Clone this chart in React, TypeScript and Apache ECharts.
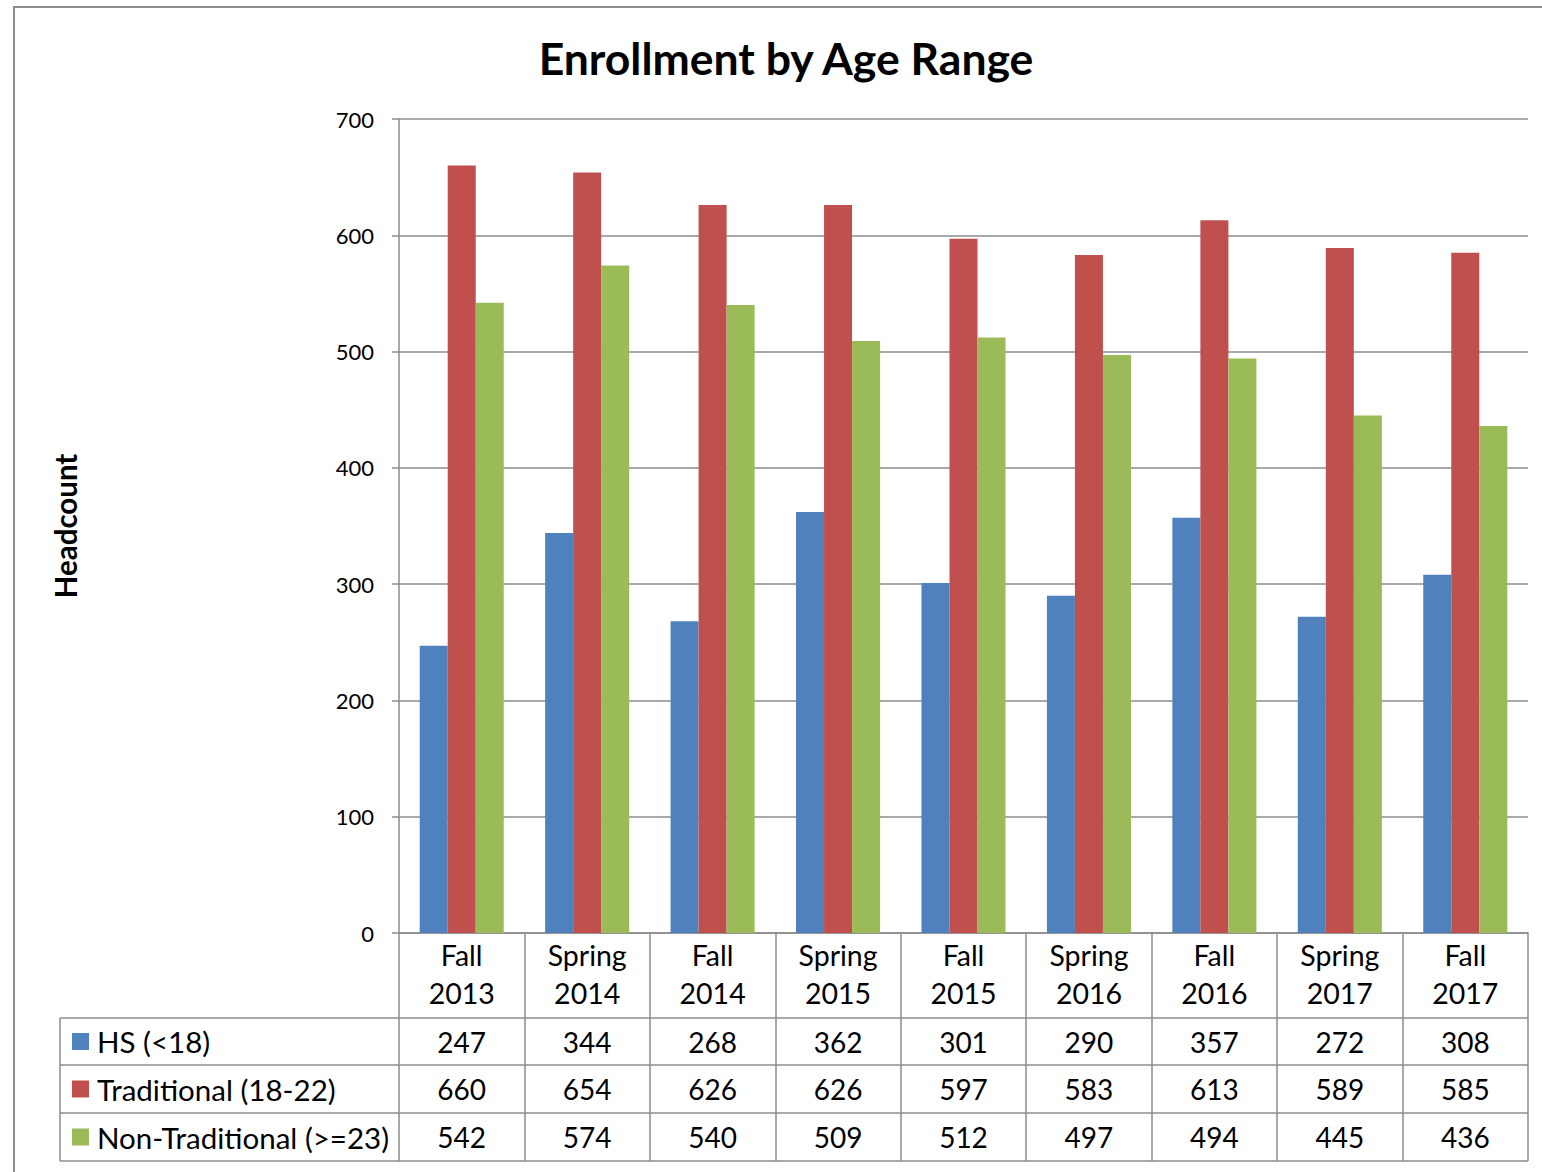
import React, { useEffect, useRef } from "react";
import * as echarts from "echarts";

const categories = ["Fall\n2013", "Spring\n2014", "Fall\n2014", "Spring\n2015", "Fall\n2015", "Spring\n2016", "Fall\n2016", "Spring\n2017", "Fall\n2017"];
const seriesNames = ["HS (<18)", "Traditional (18-22)", "Non-Traditional (>=23)"];
const hsValues = [247, 344, 268, 362, 301, 290, 357, 272, 308];
const traditionalValues = [660, 654, 626, 626, 597, 583, 613, 589, 585];
const nonTraditionalValues = [542, 574, 540, 509, 512, 497, 494, 445, 436];
const seriesColors = ["#4F81BD", "#C0504D", "#9BBB59"];
const yTicks = { min: 0, max: 700, interval: 100 };
const titleText = "Enrollment by Age Range";
const yAxisTitle = "Headcount";

const FONT = "Lato, 'Noto Sans', sans-serif";
const LINE = "#8c8c8c";

export default function App() {
  const ref = useRef<HTMLDivElement>(null);
  useEffect(() => {
    if (!ref.current) return;
    const chart = echarts.init(ref.current, null, { renderer: "svg" });
    const allValues = [hsValues, traditionalValues, nonTraditionalValues];
    const gridLeft = 399, gridTop = 119, gridRight = 1528, gridBottom = 933;
    const tableBottom = 1161;
    chart.setOption({
      animation: false,
      backgroundColor: "#ffffff",
      grid: { left: gridLeft, top: gridTop, right: 1542 - gridRight, bottom: 1172 - gridBottom, containLabel: false },
      xAxis: {
        type: "category",
        data: categories,
        axisLine: { show: true, lineStyle: { color: LINE, width: 1.5 } },
        axisTick: { show: true, inside: false, length: tableBottom - gridBottom, lineStyle: { color: LINE, width: 1.5 } },
        axisLabel: { fontFamily: FONT, fontSize: 28.5, color: "#000", lineHeight: 38, margin: 3, interval: 0 },
        splitLine: { show: false },
      },
      yAxis: {
        type: "value",
        min: yTicks.min,
        max: yTicks.max,
        interval: yTicks.interval,
        name: yAxisTitle,
        nameLocation: "middle",
        nameRotate: 90,
        nameGap: gridLeft - 80,
        nameTextStyle: { fontFamily: FONT, fontSize: 29.5, fontWeight: "bold", color: "#000" },
        axisLine: { show: true, lineStyle: { color: LINE, width: 1.5 } },
        axisTick: { show: true, length: 7, lineStyle: { color: LINE, width: 1.5 } },
        axisLabel: { fontFamily: FONT, fontSize: 22, color: "#000", margin: 25 },
        splitLine: { show: true, lineStyle: { color: LINE, width: 1.5 } },
      },
      series: seriesNames.map((name, i) => ({
        name,
        type: "bar",
        data: allValues[i],
        itemStyle: { color: seriesColors[i] },
        barGap: "0%",
        barCategoryGap: "33%",
      })),
    });

    const rowTops = [1018, 1065, 1113, 1161];
    const tableLeft = 60;
    const graphics: any[] = [];
    graphics.push({
      type: "rect",
      shape: { x: 14, y: 7, width: 1600, height: 1300 },
      style: { fill: "none", stroke: "#8c8c8c", lineWidth: 2 },
      silent: true,
      z: 0,
    });
    graphics.push({
      type: "text",
      x: 786,
      y: 57,
      style: { text: titleText, font: `bold 44.5px ${FONT}`, fill: "#000", textAlign: "center", textVerticalAlign: "middle" },
    });
    rowTops.forEach((y) => {
      graphics.push({
        type: "line",
        shape: { x1: tableLeft, y1: y, x2: gridRight, y2: y },
        style: { stroke: LINE, lineWidth: 1.5 },
      });
    });
    graphics.push({
      type: "line",
      shape: { x1: tableLeft, y1: rowTops[0], x2: tableLeft, y2: tableBottom },
      style: { stroke: LINE, lineWidth: 1.5 },
    });
    seriesNames.forEach((name, r) => {
      const cy = (rowTops[r] + rowTops[r + 1]) / 2;
      graphics.push({
        type: "rect",
        shape: { x: 72, y: cy - 8.5, width: 17, height: 17 },
        style: { fill: seriesColors[r] },
      });
      graphics.push({
        type: "text",
        x: 97,
        y: cy,
        style: { text: name, font: `29.5px ${FONT}`, fill: "#000", textAlign: "left", textVerticalAlign: "middle" },
      });
      allValues[r].forEach((v, c) => {
        const px = chart.convertToPixel({ xAxisIndex: 0 }, c) as number;
        graphics.push({
          type: "text",
          x: px,
          y: cy,
          style: { text: String(v), font: `28px ${FONT}`, fill: "#000", textAlign: "center", textVerticalAlign: "middle" },
        });
      });
    });
    chart.setOption({ graphic: graphics });
    return () => chart.dispose();
  }, []);
  return <div ref={ref} style={{ position: "fixed", left: 0, top: 0, width: 1542, height: 1172 }} />;
}
